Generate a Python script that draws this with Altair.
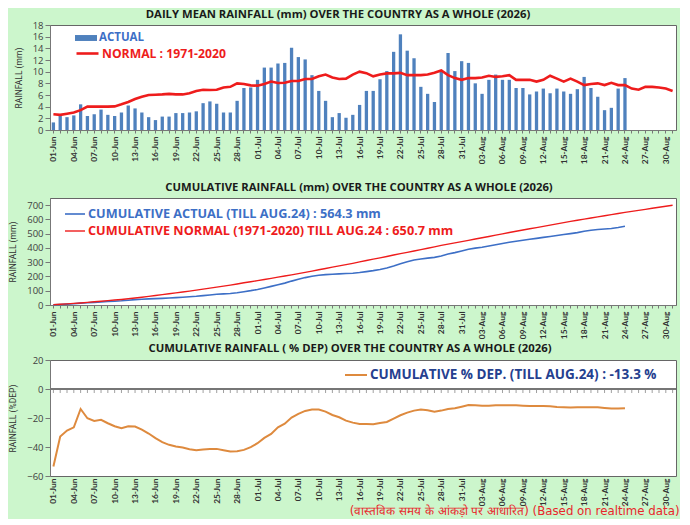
import json
import altair as alt
import pandas as pd

# ---------------- data ----------------
DATES = [d.strftime("%d-%b") for d in pd.date_range("2026-06-01", "2026-08-31")]

TICK_LABELS = ["01-Jun", "04-Jun", "07-Jun", "10-Jun", "13-Jun", "16-Jun", "19-Jun",
               "22-Jun", "25-Jun", "28-Jun", "01-Jul", "04-Jul", "07-Jul", "10-Jul",
               "13-Jul", "16-Jul", "19-Jul", "22-Jul", "25-Jul", "28-Jul", "31-Jul",
               "03-Aug", "06-Aug", "09-Aug", "12-Aug", "15-Aug", "18-Aug", "21-Aug",
               "24-Aug", "27-Aug", "30-Aug"]

# daily actual rainfall (mm), 01-Jun .. 24-Aug
ACTUAL = [1.3, 2.6, 2.2, 2.5, 4.4, 2.4, 2.7, 3.5, 2.6, 2.4,
          3.0, 4.2, 3.7, 3.0, 2.2, 1.7, 2.3, 2.3, 2.9, 2.9,
          3.0, 3.2, 4.6, 4.9, 4.5, 3.0, 3.0, 5.0, 7.2, 7.3,
          8.6, 10.7, 10.7, 11.4, 11.5, 14.1, 12.5, 12.1, 9.4, 6.7,
          5.0, 2.2, 2.9, 2.1, 2.6, 4.3, 6.7, 6.7, 8.7, 10.1,
          13.4, 16.4, 13.6, 12.3, 7.4, 6.2, 4.8, 10.3, 13.2, 10.1,
          11.8,
          11.5, 8.0, 6.2, 8.6, 9.5, 8.6, 8.6, 7.2, 7.2, 6.1,
          6.6, 7.1, 6.3, 7.1, 6.6, 6.2, 7.0, 9.1, 7.2, 5.7,
          3.4, 3.8, 7.1, 8.9]

# daily normal rainfall 1971-2020 (mm), 01-Jun .. 31-Aug
NORMAL = [2.7, 2.6, 2.8, 3.0, 3.4, 4.0, 4.0, 4.0, 4.0, 4.05,
          4.4, 4.8, 5.3, 5.7, 6.0, 6.05, 6.1, 6.2, 6.1, 6.1,
          6.3, 6.7, 6.9, 6.85, 6.9, 7.3, 7.4, 8.0, 7.9, 7.65,
          7.6, 7.9, 8.3, 8.05, 8.1, 8.4, 8.4, 8.75, 8.75, 9.2,
          9.5, 9.0, 8.75, 8.8, 9.5, 10.0, 9.75, 9.2, 9.5, 9.7,
          9.7, 9.8, 9.4, 9.4, 9.4, 9.5, 9.8, 10.2, 9.4, 8.9,
          8.6,
          8.9, 8.9, 9.0, 9.3, 9.1, 9.2, 9.4, 8.6, 8.6, 8.6,
          8.3, 8.6, 9.3, 8.8, 8.3, 8.8, 8.3, 7.7, 7.9, 8.0,
          7.7, 8.1, 7.7, 7.7, 7.1, 6.9, 7.4, 7.4, 7.3, 7.1,
          6.7]

# cumulative % departure, 01-Jun .. 24-Aug
DEP = [-53.4, -32.8, -28.7, -26.4, -13.8, -20.2, -22.0, -21.3, -23.6, -25.7,
       -27.1, -25.7, -25.9, -28.0, -30.7, -33.9, -36.7, -38.5, -39.7, -40.4,
       -41.5, -42.2, -41.7, -41.3, -41.3, -42.2, -43.1, -42.9, -42.0, -40.1,
       -37.4, -33.7, -31.0, -26.4, -23.9, -19.7, -17.2, -15.1, -14.2, -14.2,
       -15.6, -17.9, -19.5, -21.8, -23.2, -24.1, -24.1, -24.3, -23.4, -22.7,
       -20.4, -18.1, -16.3, -14.9, -14.2, -14.7, -15.6, -14.9, -13.8, -13.3,
       -12.2,
       -11.0, -11.2, -11.5, -11.5, -11.2, -11.2, -11.2, -11.2, -11.5, -11.7,
       -11.7, -11.7, -11.9, -12.4, -12.6, -12.8, -12.6, -12.6, -12.6, -12.6,
       -13.1, -13.5, -13.5, -13.3]

Y1_TICKS = [0, 2, 4, 6, 8, 10, 12, 14, 16, 18]
Y2_TICKS = [0, 100, 200, 300, 400, 500, 600, 700]
Y3_TICKS = [-60, -40, -20, 0, 20]

TITLE1 = "DAILY MEAN RAINFALL (mm) OVER THE COUNTRY AS A WHOLE  (2026)"
TITLE2 = "CUMULATIVE  RAINFALL (mm) OVER THE COUNTRY AS A WHOLE  (2026)"
TITLE3 = "CUMULATIVE RAINFALL ( % DEP) OVER THE COUNTRY AS A WHOLE (2026)"
LEG_ACT = "ACTUAL"
LEG_NOR = "NORMAL : 1971-2020"
LEG_CACT = "CUMULATIVE ACTUAL (TILL AUG.24) : 564.3 mm"
LEG_CNOR = "CUMULATIVE NORMAL (1971-2020) TILL AUG.24 : 650.7 mm"
LEG_DEP = "CUMULATIVE % DEP.  (TILL  AUG.24) : -13.3 %"
FOOTER = "(वास्तविक समय के आंकड़ो पर आधारित) (Based on realtime data)"

# ---------------- styling ----------------
BG = "#ccf6cc"
BLUE_BAR = "#4f81bd"
RED = "#ee1c1c"
BLUE_LINE = "#3d6fc6"
ORANGE = "#de8a3e"
W = 626

df_act = pd.DataFrame({"date": DATES[:len(ACTUAL)], "rain": ACTUAL,
                       "idx": range(len(ACTUAL)), "series": LEG_ACT})
df_nor = pd.DataFrame({"date": DATES, "rain": NORMAL,
                       "idx": range(len(NORMAL)), "series": LEG_NOR})
df_cact = df_act.assign(series=LEG_CACT)
df_cnor = df_nor.assign(series=LEG_CNOR)
df_dep = pd.DataFrame({"date": DATES[:len(DEP)], "dep": DEP, "series": LEG_DEP})
df_zero = pd.DataFrame({"date": DATES, "dep": [0] * len(DATES)})

label_expr = f"indexof({json.dumps(TICK_LABELS)}, datum.value) >= 0 ? datum.value : ''"

def x_axis(ticks=True, domain=True, title=None):
    kw = dict(labelExpr=label_expr, labelAngle=270, labelAlign="right",
              labelBaseline="middle", labelFont="Lato", labelFontWeight="bold",
              labelFontSize=8.4, labelColor="#333333", labelOverlap=False,
              labelPadding=3 if ticks else 2, ticks=ticks, tickSize=3 if ticks else 0,
              tickColor="#777777", domain=domain, domainColor="#777777", grid=False)
    if title is not None:
        kw.update(title=title, titleColor="#e8262b", titleFont="DejaVu Sans",
                  titleFontSize=11.8, titleFontWeight="normal", titleAnchor="end",
                  titleAlign="right", titlePadding=0, titleX=W + 3)
    else:
        kw.update(title=None)
    return alt.Axis(**kw)

def y_axis(values, title):
    return alt.Axis(values=values, grid=False, tickSize=5, tickColor="#777777",
                    domainColor="#777777", labelFont="Open Sans", labelFontSize=9.5,
                    labelColor="#404040", labelPadding=2, labelOverlap=False,
                    labelBound=False, labelFlush=False,
                    title=title, titleFont="Roboto", titleFontSize=8.5,
                    titleFontWeight="normal", titleColor="#333333", titlePadding=9)

def xenc(axis):
    return alt.X("date:O", scale=alt.Scale(domain=DATES, type="band",
                                            paddingInner=0, paddingOuter=0),
                 axis=axis)

def legend(x, y, color, path, ssize, swidth, fsize):
    return alt.Legend(orient="none", legendX=x, legendY=y, title=None,
                      symbolType=path, symbolSize=ssize, symbolStrokeWidth=swidth,
                      labelColor=color, labelFont="Open Sans", labelFontWeight="bold",
                      labelFontSize=fsize, labelOffset=2, labelLimit=0, padding=0)

RECT = "M-1,-0.27H1V0.27H-1Z"

def title(t, offset, dx):
    return alt.Title(t, font="Open Sans", fontSize=11.3, fontWeight="bold",
                     color="#1a1a1a", anchor="middle", offset=offset, dx=dx)

# ---------------- panel 1 ----------------
y1 = alt.Y("rain:Q", scale=alt.Scale(domain=[0, 18]),
           axis=y_axis(Y1_TICKS, "RAINFALL  (mm)"))
bars = alt.Chart(df_act).mark_bar(width=3.3).encode(
    x=xenc(x_axis()), y=y1,
    fill=alt.Fill("series:N", scale=alt.Scale(domain=[LEG_ACT], range=[BLUE_BAR]),
                  legend=legend(25, 2, BLUE_LINE, RECT, 484, 0, 11.5)),
)
nline = alt.Chart(df_nor).mark_line(strokeWidth=2.6).encode(
    x=xenc(x_axis()), y=y1,
    stroke=alt.Stroke("series:N", scale=alt.Scale(domain=[LEG_NOR], range=[RED]),
                      legend=legend(25, 16, RED, "stroke", 484, 2.6, 12.2)),
)
p1 = alt.layer(bars, nline).resolve_scale(fill="independent", stroke="independent").properties(
    width=W, height=105, title=title(TITLE1, 0, -25))

# ---------------- panel 2 ----------------
y2 = alt.Y("cum:Q", scale=alt.Scale(domain=[0, 750]),
           axis=y_axis(Y2_TICKS, "RAINFALL  (mm)"))
cact = alt.Chart(df_cact).transform_window(
    cum="sum(rain)", sort=[alt.SortField("idx")], frame=[None, 0]
).mark_line(strokeWidth=1.6).encode(
    x=xenc(x_axis()), y=y2,
    color=alt.Color("series:N", scale=alt.Scale(domain=[LEG_CACT], range=[BLUE_LINE]),
                    legend=legend(14, 5, BLUE_LINE, "stroke", 400, 1.6, 12.7)),
)
cnor = alt.Chart(df_cnor).transform_window(
    cum="sum(rain)", sort=[alt.SortField("idx")], frame=[None, 0]
).mark_line(strokeWidth=1.4).encode(
    x=xenc(x_axis()), y=y2,
    stroke=alt.Stroke("series:N", scale=alt.Scale(domain=[LEG_CNOR], range=[RED]),
                      legend=legend(14, 22, RED, "stroke", 400, 1.4, 12.7)),
)
p2 = alt.layer(cact, cnor).resolve_scale(color="independent", stroke="independent").properties(
    width=W, height=107, title=title(TITLE2, 5, -4))

# ---------------- panel 3 ----------------
y3 = alt.Y("dep:Q", scale=alt.Scale(domain=[-60, 20]),
           axis=y_axis(Y3_TICKS, "RAINFALL  (%DEP)"))
x3 = xenc(x_axis(ticks=False, domain=False, title=FOOTER))
dline = alt.Chart(df_dep).mark_line(strokeWidth=2).encode(
    x=x3, y=y3,
    color=alt.Color("series:N", scale=alt.Scale(domain=[LEG_DEP], range=[ORANGE]),
                    legend=legend(294, 3, "#25408f", "stroke", 484, 2, 13.5)),
)
zero_rule = alt.Chart(df_zero).mark_rule(color="#777777", strokeWidth=1).encode(y=y3)
zero_ticks = alt.Chart(df_zero).mark_tick(orient="vertical", size=4, thickness=1,
                                          color="#777777", yOffset=2).encode(x=x3, y=y3)
p3 = alt.layer(dline, zero_rule, zero_ticks).properties(
    width=W, height=116, title=title(TITLE3, 1, -13))

top = alt.vconcat(p1, p2, spacing=16)
chart = alt.vconcat(top, p3, spacing=2).resolve_scale(
    color="independent", fill="independent", stroke="independent"
).properties(
    background=BG, padding={"left": 0, "top": 0, "right": 0, "bottom": 0}
).configure_view(
    stroke="#666666", fill="white", strokeWidth=1
).configure_axisY(labelOverlap=False)

chart.save("out.html", embed_options={"renderer": "svg", "actions": False})
